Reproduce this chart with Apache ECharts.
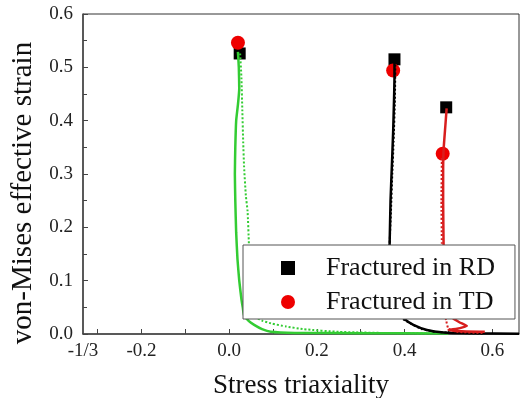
<!DOCTYPE html>
<html>
<head>
<meta charset="utf-8">
<script src="https://cdn.jsdelivr.net/npm/echarts@6/dist/echarts.min.js"></script>
<style>
html,body{margin:0;padding:0;background:#fff;}
#c{width:522px;height:398px;}
</style>
</head>
<body>
<div id="c"></div>
<script>
// Tick labels
const xLabelValues = [-1/3, -0.2, 0, 0.2, 0.4, 0.6];
const xTickValues = [-0.3, -0.2, -0.1, 0, 0.1, 0.2, 0.3, 0.4, 0.5, 0.6];
const yLabels = [0.0, 0.1, 0.2, 0.3, 0.4, 0.5, 0.6];

// Fracture points
const fracturedRD = [[0.024, 0.526], [0.377, 0.515], [0.495, 0.425]];
const fracturedTD = [[0.020, 0.546], [0.374, 0.494], [0.487, 0.338]];

// Loading paths (stress triaxiality, effective strain)
const greenSolid = [[0.020,0.529],[0.022,0.50],[0.023,0.46],[0.020,0.43],[0.016,0.40],[0.014,0.35],[0.013,0.30],[0.014,0.25],[0.016,0.19],[0.019,0.14],[0.023,0.10],[0.028,0.065],[0.031,0.05],[0.034,0.035],[0.045,0.024],[0.057,0.017],[0.075,0.009],[0.095,0.004],[0.15,0.002],[0.3,0.0015],[0.5,0.001]];
const greenDotted = [[0.025,0.526],[0.028,0.48],[0.030,0.42],[0.032,0.36],[0.034,0.314],[0.038,0.26],[0.042,0.23],[0.045,0.17],[0.047,0.12],[0.048,0.08],[0.050,0.045],[0.060,0.032],[0.075,0.025],[0.095,0.020],[0.13,0.014],[0.17,0.009],[0.25,0.004],[0.35,0.002],[0.45,0.001]];
const blackSolid = [[0.377,0.515],[0.377,0.48],[0.376,0.44],[0.374,0.38],[0.371,0.314],[0.368,0.25],[0.366,0.17],[0.364,0.12],[0.366,0.08],[0.372,0.055],[0.385,0.04],[0.398,0.029],[0.420,0.017],[0.451,0.0075],[0.489,0.003],[0.55,0.0015],[0.661,0.0005]];
const blackDotted = [[0.379,0.505],[0.378,0.44],[0.375,0.36],[0.372,0.30],[0.369,0.23],[0.366,0.17],[0.364,0.11],[0.368,0.06],[0.380,0.037],[0.392,0.030],[0.415,0.019],[0.44,0.009],[0.47,0.004],[0.52,0.002],[0.58,0.001]];
const redSolid = [[0.496,0.423],[0.493,0.39],[0.489,0.345],[0.488,0.30],[0.488,0.25],[0.489,0.17],[0.490,0.10],[0.493,0.05],[0.508,0.031],[0.525,0.022],[0.542,0.015],[0.52,0.01],[0.50,0.0075],[0.53,0.005],[0.583,0.004]];
const redDotted = [[0.485,0.33],[0.484,0.25],[0.485,0.17],[0.486,0.10],[0.488,0.05],[0.495,0.025],[0.50,0.01],[0.52,0.004],[0.58,0.002]];

const FONT = 'Liberation Serif';
const GREEN = '#33cc33', RED = '#d81e1e', BLACK = '#000', MRED = '#ee0000';

function lineSeries(data, color, dotted) {
  return {
    type: 'line', data: data, showSymbol: false, symbol: 'none', smooth: 0.15,
    z: 3, silent: true,
    lineStyle: { color: color, width: dotted ? 2 : 2.5, type: dotted ? [2, 2] : 'solid' }
  };
}

const chart = echarts.init(document.getElementById('c'), null, { renderer: 'canvas' });
chart.setOption({
  animation: false,
  backgroundColor: '#fff',
  textStyle: { fontFamily: FONT },
  grid: { left: 83, right: 3, top: 14, bottom: 64, outerBoundsMode: 'none', containLabel: false,
          show: true, borderColor: '#333', borderWidth: 1, backgroundColor: 'transparent' },
  xAxis: {
    type: 'value', min: -1/3, max: 0.661,
    name: 'Stress triaxiality', nameLocation: 'middle', nameGap: 38,
    nameTextStyle: { fontFamily: FONT, fontSize: 27, color: '#111' },
    axisLine: { show: true, onZero: false, lineStyle: { color: '#444', width: 1.5 } },
    axisTick: { show: true, inside: true, length: 5, customValues: xTickValues, lineStyle: { color: '#444' } },
    axisLabel: {
      customValues: xLabelValues, margin: 8, fontFamily: FONT, fontSize: 19, color: '#222',
      formatter: function (v) { return v < -0.3 ? '-1/3' : v.toFixed(1); }
    },
    splitLine: { show: false }
  },
  yAxis: {
    type: 'value', min: 0, max: 0.6, interval: 0.1,
    name: 'von-Mises effective strain', nameLocation: 'middle', nameGap: 42,
    nameTextStyle: { fontFamily: FONT, fontSize: 29, color: '#111', padding: [0, 38, 0, 0] },
    axisLine: { show: true, onZero: false, lineStyle: { color: '#444', width: 1.5 } },
    axisTick: { show: true, inside: true, length: 5, lineStyle: { color: '#444' } },
    minorTick: { show: true, splitNumber: 2, length: 4, lineStyle: { color: '#444' } },
    axisLabel: {
      margin: 10, fontFamily: FONT, fontSize: 19, color: '#222',
      customValues: yLabels,
      formatter: function (v) { return v.toFixed(1); }
    },
    splitLine: { show: false }
  },
  legend: {
    show: true, orient: 'vertical', left: 243, top: 245,
    backgroundColor: '#fff', borderColor: '#555', borderWidth: 1, borderRadius: 0,
    padding: [10, 20, 4, 38], itemGap: 8, itemWidth: 14, itemHeight: 14,
    textStyle: { fontFamily: FONT, fontSize: 26, color: '#111' },
    formatter: function (n) { return '    ' + n; },
    data: [
      { name: 'Fractured in RD', icon: 'rect', itemStyle: { color: BLACK, opacity: 1 } },
      { name: 'Fractured in TD', icon: 'circle', itemStyle: { color: MRED, opacity: 1 } }
    ],
    z: 10
  },
  series: [
    { name: 'Fractured in RD', type: 'scatter', data: fracturedRD, symbol: 'rect', symbolSize: 12, z: 2, itemStyle: { color: BLACK, opacity: 1 } },
    { name: 'Fractured in TD', type: 'scatter', data: fracturedTD, symbol: 'circle', symbolSize: 14, z: 2, itemStyle: { color: MRED, opacity: 1 } },
    lineSeries(greenSolid, GREEN, false),
    lineSeries(greenDotted, GREEN, true),
    lineSeries(blackSolid, BLACK, false),
    lineSeries(blackDotted, BLACK, true),
    lineSeries(redSolid, RED, false),
    lineSeries(redDotted, RED, true)
  ]
});
</script>
</body>
</html>
